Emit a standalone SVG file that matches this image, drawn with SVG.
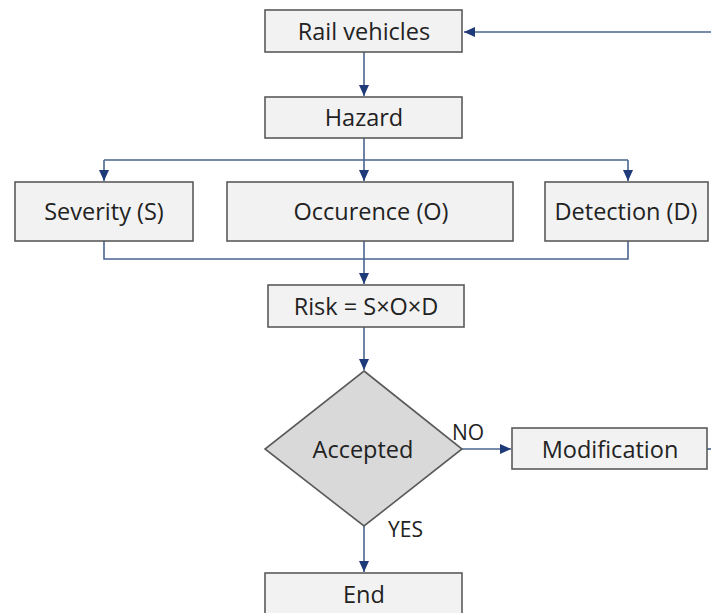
<svg xmlns="http://www.w3.org/2000/svg" width="711" height="613" viewBox="0 0 711 613">
<style>
.box{fill:#f2f2f2;stroke:#5a5a5a;stroke-width:1.6}
.dia{fill:#d9d9d9;stroke:#5a5a5a;stroke-width:1.6}
.t{font-family:"Open Sans","Liberation Sans",sans-serif;font-size:23.5px;fill:#222;text-anchor:middle;dominant-baseline:central}
.lbl{font-family:"Open Sans","Liberation Sans",sans-serif;font-size:21px;fill:#222}
.c{fill:none;stroke:#4a6590;stroke-width:1.6}
</style>
<defs>
<marker id="ah" markerUnits="userSpaceOnUse" markerWidth="12" markerHeight="12" viewBox="0 0 12 12" refX="11" refY="6" orient="auto">
<path d="M0,1 L11,6 L0,11 Z" fill="#1f3a78"/>
</marker>
</defs>
<rect width="711" height="613" fill="#ffffff"/>
<g id="connectors">
<path class="c" d="M711,32 H464" marker-end="url(#ah)"/>
<path class="c" d="M707,449 H711"/>
<path class="c" d="M364,52 V96" marker-end="url(#ah)"/>
<path class="c" d="M364,138 V160 M104,160 H628"/>
<path class="c" d="M104,160 V181" marker-end="url(#ah)"/>
<path class="c" d="M364,160 V181" marker-end="url(#ah)"/>
<path class="c" d="M628,160 V181" marker-end="url(#ah)"/>
<path class="c" d="M104,241 V259 H628 V241"/>
<path class="c" d="M364,241 V284" marker-end="url(#ah)"/>
<path class="c" d="M364,327 V370" marker-end="url(#ah)"/>
<path class="c" d="M462,449 H511" marker-end="url(#ah)"/>
<path class="c" d="M364,526 V572" marker-end="url(#ah)"/>
</g>
<g id="rail"><rect class="box" x="265" y="10" width="197" height="42"/><text class="t" x="364" y="31">Rail vehicles</text></g>
<g id="hazard"><rect class="box" x="265" y="97" width="197" height="41"/><text class="t" x="364" y="117">Hazard</text></g>
<g id="severity"><rect class="box" x="15" y="182" width="178" height="59"/><text class="t" x="104" y="211">Severity (S)</text></g>
<g id="occurence"><rect class="box" x="227" y="182" width="286" height="59"/><text class="t" x="371" y="211">Occurence (O)</text></g>
<g id="detection"><rect class="box" x="545" y="182" width="163" height="59"/><text class="t" x="626" y="211">Detection (D)</text></g>
<g id="risk"><rect class="box" x="268" y="285" width="196" height="42"/><text class="t" x="366" y="306">Risk = S×O×D</text></g>
<g id="accepted"><polygon class="dia" points="364,371 462,449 364,526 265,449"/><text class="t" x="363" y="449">Accepted</text></g>
<g id="modification"><rect class="box" x="512" y="428" width="195" height="41"/><text class="t" x="610" y="449">Modification</text></g>
<g id="end"><rect class="box" x="265" y="573" width="197" height="50"/><text class="t" x="364" y="594">End</text></g>
<text class="lbl" x="452" y="440">NO</text>
<text class="lbl" x="388" y="537">YES</text>
</svg>
